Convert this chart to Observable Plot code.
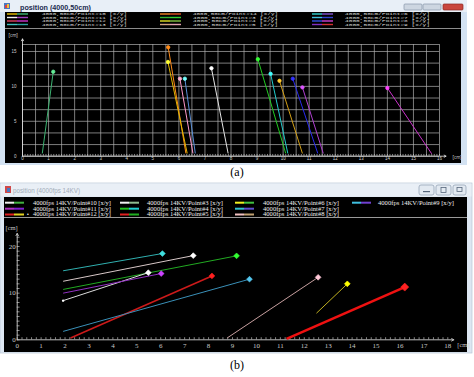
<!DOCTYPE html>
<html><head><meta charset="utf-8">
<script src="https://cdn.jsdelivr.net/npm/d3@7"></script>
<script src="https://cdn.jsdelivr.net/npm/@observablehq/plot@0.6"></script>
<style>
body{margin:0;background:#fff;}
#fig{position:relative;width:474px;height:377px;overflow:hidden;}
#fig svg{position:absolute;}
</style></head><body><div id="fig"></div>
<script>
// ---------- Panel (a) data ----------
const seriesA = ["#10","#14","#4","#11","#6","#12","#3","#7","#5","#8","#9","#13"];
const topXA  = [1.18, 5.59, 5.58, 6.04, 6.23, 7.25, 9.03, 9.52, 9.86, 10.37, 10.74, 14.0];
const topYA  = [12.1, 15.6, 13.5, 11.1, 11.1, 12.6, 13.9, 11.8, 10.8, 11.1, 9.86, 9.77];
const baseXA = [0.76, 6.27, 6.32, 6.54, 6.63, 7.89, 10.1, 10.18, 10.74, 11.33, 11.54, 15.7];
const baseYA = [0.4, 0.4, 0.4, 0.4, 0.4, 0.4, 0.4, 0.4, 0.4, 0.4, 0.4, 0.35];
const xTickLabelsA = [0,1,2,3,4,5,6,7,8,9,10,11,12,13,14,15,16];
const yTickLabelsA = [0,5,10,15];
const legendLabelsA = [
  "4000,50cm/Point#10 [x/y]","4000,50cm/Point#11 [x/y]","4000,50cm/Point#12 [x/y]","4000,50cm/Point#13 [x/y]",
  "4000,50cm/Point#14 [x/y]","4000,50cm/Point#3 [x/y]","4000,50cm/Point#4 [x/y]","4000,50cm/Point#5 [x/y]",
  "4000,50cm/Point#6 [x/y]","4000,50cm/Point#7 [x/y]","4000,50cm/Point#8 [x/y]","4000,50cm/Point#9 [x/y]"];
// styles (a)
const lineColorsA   = ["#3cb371","#ff8c1a","#e6b800","#ff99cc","#5a8fd8","#e6e6e6","#22cc22","#22cccc","#d4a017","#2a2aee","#b040d0","#cc33cc"];
const markerColorsA = ["#66ee99","#ff8c1a","#ffff33","#ffb0d0","#77ffff","#ffffff","#33ff33","#44ffff","#ffcc33","#3333ff","#dd55ff","#ff44ff"];
const swatchA = [["#e8c000","#3cb371"],["#f0f0f0","#a040c0"],["#e04060","#cc33cc"],["#40c0c0","#2aa0a0"],
                 ["#f08020","#e05020"],["#30b030","#30d030"],["#e0e020","#80c040"],["#d0a080","#e0a0b0"],
                 ["#30d0d0","#8050d0"],["#40c0e0","#3040d0"],["#3050e0","#d040d0"],["#8030c0","#d03030"]];

// ---------- Panel (b) data ----------
const seriesB = ["#9","#3","#6","#10","#11","#12","#7","#8","#4","#5"];
const startXB = [1.92, 1.92, 1.92, 1.92, 1.92, 2.23, 1.92, 8.78, 12.51, 11.26];
const startYB = [14.8, 12.55, 10.8, 8.4, 10.0, 0.4, 1.8, 0.4, 5.7, 0.2];
const endXB   = [6.07, 7.36, 9.17, 5.48, 6.02, 8.14, 9.71, 12.58, 13.8, 16.2];
const endYB   = [18.5, 18.05, 18.0, 14.4, 14.2, 13.7, 13.0, 13.4, 12.0, 11.3];
const xTickLabelsB = [0,1,2,3,4,5,6,7,8,9,10,11,12,13,14,15,16,17,18];
const yTickLabelsB = [0,10,20];
const legendLabelsB = [
  "4000fps 14KV/Point#10 [x/y]","4000fps 14KV/Point#11 [x/y]","4000fps 14KV/Point#12 [x/y]",
  "4000fps 14KV/Point#3 [x/y]","4000fps 14KV/Point#4 [x/y]","4000fps 14KV/Point#5 [x/y]",
  "4000fps 14KV/Point#6 [x/y]","4000fps 14KV/Point#7 [x/y]","4000fps 14KV/Point#8 [x/y]",
  "4000fps 14KV/Point#9 [x/y]"];
// styles (b)
const lineColorsB   = ["#30b0b0","#d8c8c8","#22aa22","#dddddd","#9030c0","#cc1a1a","#3a90b8","#c8a0a0","#c0b020","#ee1111"];
const markerColorsB = ["#40e0e0","#ffffff","#33ff33","#ffffff","#cc44ff","#ff2020","#55c8f0","#ffc8d8","#ffff00","#ff2222"];
const lineWidthsB   = [1,1,1,1,1,1.6,1,1,1,2.6];
const swatchB = [["#f0f0f0","#40b040"],["#b030c0","#8020d0"],["#e02020","#e0d020"],
                 ["#f0f0f0","#8fbc8f"],["#20c020","#20d0d0"],["#e02020","#20b020"],
                 ["#f0f020","#40c040"],["#30c0d0","#6050d0"],["#f0c0c0","#c0a070"],
                 ["#40c0e0","#7040d0"]];

const dataA = seriesA.map((s,i)=>({s, tx:topXA[i], ty:topYA[i], bx:baseXA[i], by:baseYA[i], lc:lineColorsA[i], mc:markerColorsA[i]}));
const dataB = seriesB.map((s,i)=>({s, x1:startXB[i], y1:startYB[i], x2:endXB[i], y2:endYB[i], lc:lineColorsB[i], mc:markerColorsB[i], w:lineWidthsB[i]}));

// ---------- window chrome ----------
const fig = d3.select("#fig");
const ch = fig.append("svg").attr("width",474).attr("height",377).style("left","0px").style("top","0px");
function rect(x,y,w,h,fill,stroke,rx){const r=ch.append("rect").attr("x",x).attr("y",y).attr("width",w).attr("height",h).attr("fill",fill);if(stroke)r.attr("stroke",stroke).attr("stroke-width",0.7);if(rx)r.attr("rx",rx);return r;}
function txt(x,y,s,size,fill,family,extra={}){const t=ch.append("text").attr("x",x).attr("y",y).text(s).attr("font-size",size).attr("fill",fill).attr("font-family",family);for(const k in extra)t.attr(k,extra[k]);return t;}

// panel (a) window
rect(0,0,467,165,"#d3e2f2");
rect(0,0,467,12,"#e8eff7");
rect(4,3,6,6,"#4a78c0"); rect(5,5,2,3,"#e04040"); rect(7,4,2,4,"#f0c040");
txt(20,9.5,"position (4000,50cm)",7,"#1c2c50","Liberation Sans",{"font-weight":"bold","textLength":71,"lengthAdjust":"spacingAndGlyphs"});
rect(404,4,18,6,"#cdd6e1","#8797aa",1); rect(423,4,18,6,"#cdd6e1","#8797aa",1); rect(443,4,20,6,"#c9463d","#8a2a22",1);
rect(5,12,456,16,"#000");
rect(5,28,456,1,"#8c8c8c");
rect(5,29,456,134,"#000");
// legend (a)
const colSwA=[7,160,312], colTxA=[42,193,345], rowYA=[14,17.5,21,24.5];
legendLabelsA.forEach((lab,i)=>{const c=Math.floor(i/4), r=i%4;
  rect(colSwA[c],rowYA[r]-0.7,10,1.4,swatchA[i][0]); rect(colSwA[c]+10,rowYA[r]-0.7,11,1.4,swatchA[i][1]);
  txt(colTxA[c],rowYA[r]+1.4,lab,4,"#d8d8d8","Liberation Mono",{"textLength":85,"lengthAdjust":"spacingAndGlyphs"});});

// panel (b) window
rect(0,183,472,170,"#dde7f2","#b7c5d5");
rect(0.5,183.5,471,13,"#e9eff6");
rect(5,186,6,7,"#d04848"); rect(7,188,3,4,"#4a78c0");
txt(13,193,"position (4000fps 14KV)",7,"#a2acb8","Liberation Sans",{"textLength":67,"lengthAdjust":"spacingAndGlyphs"});
[[419,15],[436,15],[453,13]].forEach(([x,w])=>rect(x,185,w,10,"#e2e9f1","#8e9db0",2));
rect(423,191,7,1.2,"#55657a"); ch.append("rect").attr("x",441).attr("y",187.5).attr("width",5).attr("height",5).attr("fill","none").attr("stroke","#55657a").attr("stroke-width",0.8);
ch.append("rect").attr("x",457).attr("y",187.5).attr("width",5).attr("height",4).attr("fill","none").attr("stroke","#55657a").attr("stroke-width",0.8);
rect(4,197,463,20,"#000");
rect(4,217,463,1.2,"#9a9a9a");
rect(4,218,463,134,"#000");
// legend (b)
const colSwB=[5,120,235,352], colTxB=[33,147,263,378], rowYB=[202.7,208.7,214.5];
legendLabelsB.forEach((lab,i)=>{const c=Math.floor(i/3), r=i%3;
  rect(colSwB[c],rowYB[r]-1,9,2,swatchB[i][0]); rect(colSwB[c]+9,rowYB[r]-1,10,2,swatchB[i][1]);
  txt(colTxB[c],rowYB[r]+1.9,lab,5.6,"#eeeeee","Liberation Serif",{"textLength":lab.length>26?78:76,"lengthAdjust":"spacingAndGlyphs"});});
txt(27,216.2,"•",5,"#ffffff","Liberation Sans");

// figure labels
txt(237,176,"(a)",12,"#000","Liberation Serif",{"text-anchor":"middle"});
txt(237,369,"(b)",12,"#000","Liberation Serif",{"text-anchor":"middle"});

// ---------- Plot (a) ----------
const xGridA = d3.range(0,16.01,0.5);
const yGridA = d3.range(0,16,5/3).concat([16]);
const plotA = Plot.plot({
  width:456, height:134, marginLeft:17, marginRight:22, marginTop:15, marginBottom:7.3,
  x:{domain:[0,16], axis:null}, y:{domain:[0,16], axis:null},
  color:{type:"identity"},
  style:{background:"black", overflow:"visible"},
  marks:[
    Plot.gridX(xGridA,{stroke:"#b0b0b0", strokeOpacity:1, strokeWidth:0.7}),
    Plot.gridY(yGridA,{stroke:"#b0b0b0", strokeOpacity:1, strokeWidth:0.7}),
    Plot.ruleX(d3.range(0,16.01,0.1),{y1:0, y2:0.25, stroke:"#e0e0e0", strokeWidth:0.6}),
    Plot.arrow([0],{x1:0,y1:0,x2:0,y2:16.8, stroke:"#e8e8e8", strokeWidth:0.8, headLength:4}),
    Plot.arrow([0],{x1:0,y1:0,x2:16.25,y2:0, stroke:"#e8e8e8", strokeWidth:0.8, headLength:4}),
    Plot.axisX(xTickLabelsA,{anchor:"bottom", tickSize:0, tickPadding:1, fontSize:4.5, fill:"#cccccc", label:null, fontFamily:"Liberation Sans"}),
    Plot.axisY(yTickLabelsA,{anchor:"left", tickSize:0, tickPadding:6, fontSize:4.5, fill:"#cccccc", label:null, fontFamily:"Liberation Sans"}),
    Plot.text(["[cm]"],{frameAnchor:"top-left", dx:-14, dy:-11, textAnchor:"start", fontSize:4.5, fill:"#cccccc"}),
    Plot.text(["[cm]"],{frameAnchor:"bottom-right", dx:13, dy:3, textAnchor:"start", fontSize:4.5, fill:"#cccccc"}),
    Plot.link(dataA,{x1:"bx", y1:"by", x2:"tx", y2:"ty", stroke:"lc", strokeWidth:1}),
    Plot.dot(dataA,{x:"tx", y:"ty", fill:"mc", stroke:"mc", symbol:"circle", r:1.7, strokeWidth:0.8})
  ]
});
plotA.style.left="5px"; plotA.style.top="29px";
fig.node().append(plotA);

// ---------- Plot (b) ----------
const plotB = Plot.plot({
  width:463, height:134, marginLeft:12.7, marginRight:19.7, marginTop:18.7, marginBottom:12.7,
  x:{domain:[0,18], axis:null}, y:{domain:[0,22], axis:null},
  color:{type:"identity"},
  style:{background:"black", overflow:"visible"},
  marks:[
    Plot.ruleX(d3.range(0,18.01,0.2),{y1:0, y2:0.45, stroke:"#c0c0c0", strokeWidth:0.7}),
    Plot.ruleY(d3.range(0,22.01,1),{x1:0, x2:0.12, stroke:"#c0c0c0", strokeWidth:0.7}),
    Plot.arrow([0],{x1:0,y1:0,x2:0,y2:22.8, stroke:"#d0d0d0", strokeWidth:0.9, headLength:4}),
    Plot.arrow([0],{x1:0,y1:0,x2:18.25,y2:0, stroke:"#d0d0d0", strokeWidth:0.9, headLength:4}),
    Plot.axisX(xTickLabelsB,{anchor:"bottom", tickSize:0, tickPadding:3.5, fontSize:7, fill:"#c8c8c8", label:null, fontFamily:"Liberation Serif"}),
    Plot.axisY(yTickLabelsB,{anchor:"left", tickSize:0, tickPadding:1.5, fontSize:7, fill:"#c8c8c8", label:null, fontFamily:"Liberation Serif"}),
    Plot.text(["[cm]"],{frameAnchor:"top-left", dx:-11.7, dy:-11.5, textAnchor:"start", fontSize:6.5, fill:"#c8c8c8", fontFamily:"Liberation Serif"}),
    Plot.text(["[cm]"],{frameAnchor:"bottom-right", dx:9.5, dy:7.5, textAnchor:"start", fontSize:6.5, fill:"#c8c8c8", fontFamily:"Liberation Serif"}),
    Plot.link(dataB,{x1:"x1", y1:"y1", x2:"x2", y2:"y2", stroke:"lc", strokeWidth:"w"}),
    Plot.dot(dataB.filter(d=>d.s==="#10"),{x:"x1", y:"y1", fill:"#ffffff", r:1.2}),
    Plot.dot(dataB.filter(d=>d.s!=="#5"),{x:"x2", y:"y2", fill:"mc", stroke:"mc", symbol:"diamond2", r:2.6, strokeWidth:0.6}),
    Plot.dot(dataB.filter(d=>d.s==="#5"),{x:"x2", y:"y2", fill:"mc", stroke:"mc", symbol:"diamond2", r:3.6, strokeWidth:0.6})
  ]
});
plotB.style.left="4px"; plotB.style.top="218px";
fig.node().append(plotB);
</script></body></html>
